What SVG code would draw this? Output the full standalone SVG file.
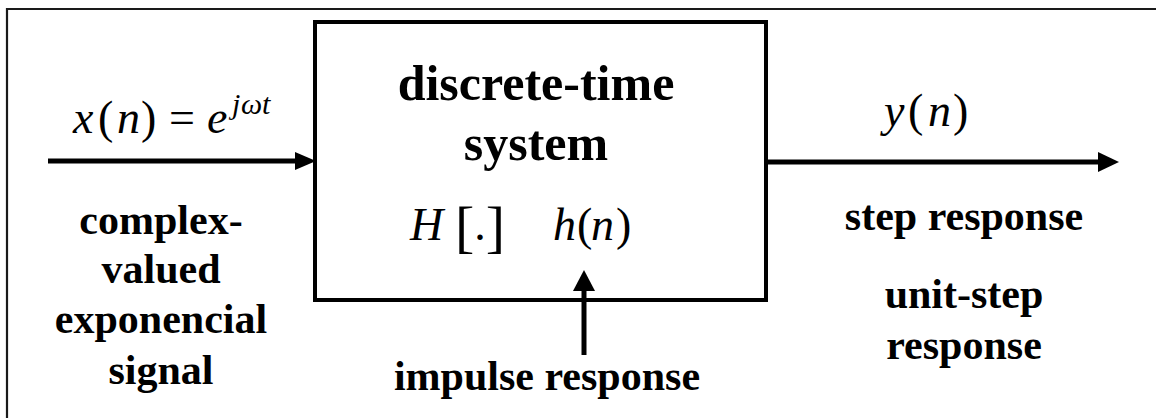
<svg xmlns="http://www.w3.org/2000/svg" width="1156" height="418" viewBox="0 0 1156 418">
  <style>
    text { font-family: 'Liberation Serif', 'Tinos', 'Nimbus Roman', 'DejaVu Serif', serif; fill: #000; }
    .lbl { font-weight: bold; font-size: 42px; text-anchor: middle; }
    .ttl { font-weight: bold; font-size: 50px; text-anchor: middle; }
    .m { font-size: 46px; }
    .mi { font-style: italic; }
    .br { font-size: 58px; }
    .sup { font-size: 30px; }
    .wire { stroke: #000; stroke-width: 5; fill: none; }
    .box { stroke: #000; stroke-width: 4; fill: #fff; }
    .head { fill: #000; }
  </style>
  <rect x="0" y="0" width="1156" height="418" fill="#fff"/>
  <path d="M7,418 V9 H1156" stroke="#1a1a1a" stroke-width="2.2" fill="none"/>

  <g id="system">
    <rect class="box" x="315" y="22" width="451" height="278"/>
    <text class="ttl" x="536" y="100">discrete-time</text>
    <text class="ttl" x="536" y="160">system</text>
    <text class="m mi" x="410" y="240">H</text>
    <text class="m" x="455" y="246"><tspan class="br">[</tspan><tspan dy="-6">.</tspan><tspan class="br" dy="6">]</tspan></text>
    <text class="m" x="553" y="240"><tspan class="mi">h</tspan><tspan x="577">(</tspan><tspan class="mi" x="591">n</tspan><tspan x="616">)</tspan></text>
  </g>

  <g id="input-label">
    <text class="m" x="73" y="133"><tspan class="mi">x</tspan><tspan x="98">(</tspan><tspan class="mi" x="117">n</tspan><tspan x="141">)</tspan><tspan x="169">=</tspan><tspan class="mi" x="207">e</tspan><tspan class="mi sup" x="232" y="114">j</tspan><tspan class="mi sup" x="241" y="114">ω</tspan><tspan class="mi sup" x="262" y="114">t</tspan></text>
  </g>

  <g id="input-desc">
    <text class="lbl" x="161" y="234">complex-</text>
    <text class="lbl" x="161" y="283">valued</text>
    <text class="lbl" x="161" y="333">exponencial</text>
    <text class="lbl" x="161" y="384">signal</text>
  </g>

  <g id="output-label">
    <text class="m" x="884" y="126"><tspan class="mi">y</tspan><tspan x="908">(</tspan><tspan class="mi" x="928">n</tspan><tspan x="953">)</tspan></text>
  </g>

  <g id="output-desc">
    <text class="lbl" x="964" y="230">step response</text>
    <text class="lbl" x="964" y="308">unit-step</text>
    <text class="lbl" x="964" y="359">response</text>
  </g>

  <g id="impulse-desc">
    <text class="lbl" x="547" y="390">impulse response</text>
  </g>

  <g id="connectors">
    <line class="wire" x1="48" y1="161" x2="297" y2="161"/>
    <polygon class="head" points="295,152 316,161 295,170"/>
    <line class="wire" x1="766" y1="162" x2="1100" y2="162"/>
    <polygon class="head" points="1098,152 1119,162 1098,172"/>
    <line class="wire" x1="584" y1="355" x2="584" y2="288"/>
    <polygon class="head" points="573,291 584,270 595,291"/>
  </g>
</svg>
